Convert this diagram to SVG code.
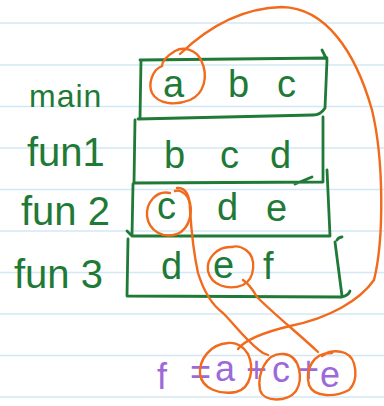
<svg xmlns="http://www.w3.org/2000/svg" width="384" height="406" viewBox="0 0 384 406">
<style>
.rule{stroke:#d3e8f5;stroke-width:1.5}
.box{fill:none;stroke:#1e7a36;stroke-width:2.8;stroke-linecap:round;stroke-linejoin:round}
.lbl{font-family:"Liberation Sans",Arial,sans-serif;fill:#1e7a36}
.var{font-family:"Liberation Sans",Arial,sans-serif;fill:#1e7a36;font-size:38px}
.ora{fill:none;stroke:#f26a1b;stroke-width:2.4;stroke-linecap:round;stroke-linejoin:round}
.pur{font-family:"Liberation Sans",Arial,sans-serif;fill:#9c6ad8;font-size:36px}
</style>
<rect width="384" height="406" fill="#fff"/>
<g id="rules">
<line class="rule" x1="0" y1="23" x2="384" y2="23"/>
<line class="rule" x1="0" y1="65" x2="384" y2="65"/>
<line class="rule" x1="0" y1="106.5" x2="384" y2="106.5"/>
<line class="rule" x1="0" y1="148" x2="384" y2="148"/>
<line class="rule" x1="0" y1="189.5" x2="384" y2="189.5"/>
<line class="rule" x1="0" y1="231" x2="384" y2="231"/>
<line class="rule" x1="0" y1="272.5" x2="384" y2="272.5"/>
<line class="rule" x1="0" y1="314" x2="384" y2="314"/>
<line class="rule" x1="0" y1="355.5" x2="384" y2="355.5"/>
<line class="rule" x1="0" y1="397" x2="384" y2="397"/>
</g>
<g id="main">
<path class="box" d="M140,60 L327,58 M322,50 L327,60 L325,108 C322,113 318,115 313,115 L138,119 M141,60 L140,118"/>
<text class="lbl" x="29" y="107" font-size="32" letter-spacing="1">main</text>
<text class="var" x="163" y="97">a</text>
<text class="var" x="228" y="97">b</text>
<text class="var" x="277" y="97">c</text>
</g>
<g id="fun1">
<path class="box" d="M135,120 L134,183 L323,182 L323,117 M295,184 L312,177"/>
<text class="lbl" x="27" y="166" font-size="40">fun1</text>
<text class="var" x="164" y="168">b</text>
<text class="var" x="220" y="168">c</text>
<text class="var" x="270" y="168">d</text>
</g>
<g id="fun2">
<path class="box" d="M133,184 L132,236 L330,236 L327,170 M127,231 L132,236"/>
<text class="lbl" x="21" y="225" font-size="40">fun 2</text>
<text class="var" x="157" y="219">c</text>
<text class="var" x="217" y="220">d</text>
<text class="var" x="266" y="221">e</text>
</g>
<g id="fun3">
<path class="box" d="M128,239 L127,296 L342,297 C346,296 349,294 350,291 M337,240 C339,237 341,237 342,237 M335,242 L342,296"/>
<text class="lbl" x="14" y="288" font-size="40">fun 3</text>
<text class="var" x="161" y="279">d</text>
<text class="var" x="213" y="278">e</text>
<text class="var" x="263" y="279">f</text>
</g>
<g id="sum">
<text class="pur" x="157" y="389" font-size="42">f</text>
<text class="pur" x="190" y="384" font-size="26">=</text>
<text class="pur" x="215" y="381">a</text>
<text class="pur" x="246" y="382" font-size="24">+</text>
<text class="pur" x="272" y="382">c</text>
<text class="pur" x="298" y="382" font-size="22">+</text>
<text class="pur" x="320" y="387" font-size="38">e</text>
</g>
<g id="connectors">
<path class="ora" d="M162,66 C152,70 148,84 152,93 C158,104 175,106 190,100 C204,94 209,76 201,60 C196,50 184,46 175,51 C167,56 162,62 162,66"/>
<path class="ora" d="M180,54 C205,30 240,8 282,7 C325,8 355,50 372,110 C384,160 384,240 374,280 C360,300 330,318 290,326 C265,332 245,340 238,349"/>
<path class="ora" d="M170,193 C156,190 146,203 147,216 C149,231 163,239 177,234 C190,229 194,210 188,198 C184,191 178,190 175,191"/>
<path class="ora" d="M177,188 C186,187 190,196 190,210 C191,225 193,250 198,273 C204,292 212,305 223,313 C235,325 248,343 263,353 L268,355"/>
<path class="ora" d="M232,247 C218,246 206,258 208,271 C211,285 228,291 243,285 C255,279 257,258 246,250 C240,246 235,246 232,247"/>
<path class="ora" d="M243,280 C249,284 253,290 257,297 C275,315 300,335 318,352"/>
<path class="ora" d="M228,343 C210,344 199,360 200,374 C202,389 220,395 236,392 C252,388 254,367 248,354 C243,346 236,342 228,343"/>
<path class="ora" d="M284,354 C266,352 257,374 260,390 C264,403 288,402 296,391 C303,380 301,356 284,354 Z"/>
<path class="ora" d="M332,353 C313,352 305,370 309,385 C314,398 336,397 349,390 C359,380 357,358 345,353 C337,350 328,351 322,356"/>
</g>
</svg>
